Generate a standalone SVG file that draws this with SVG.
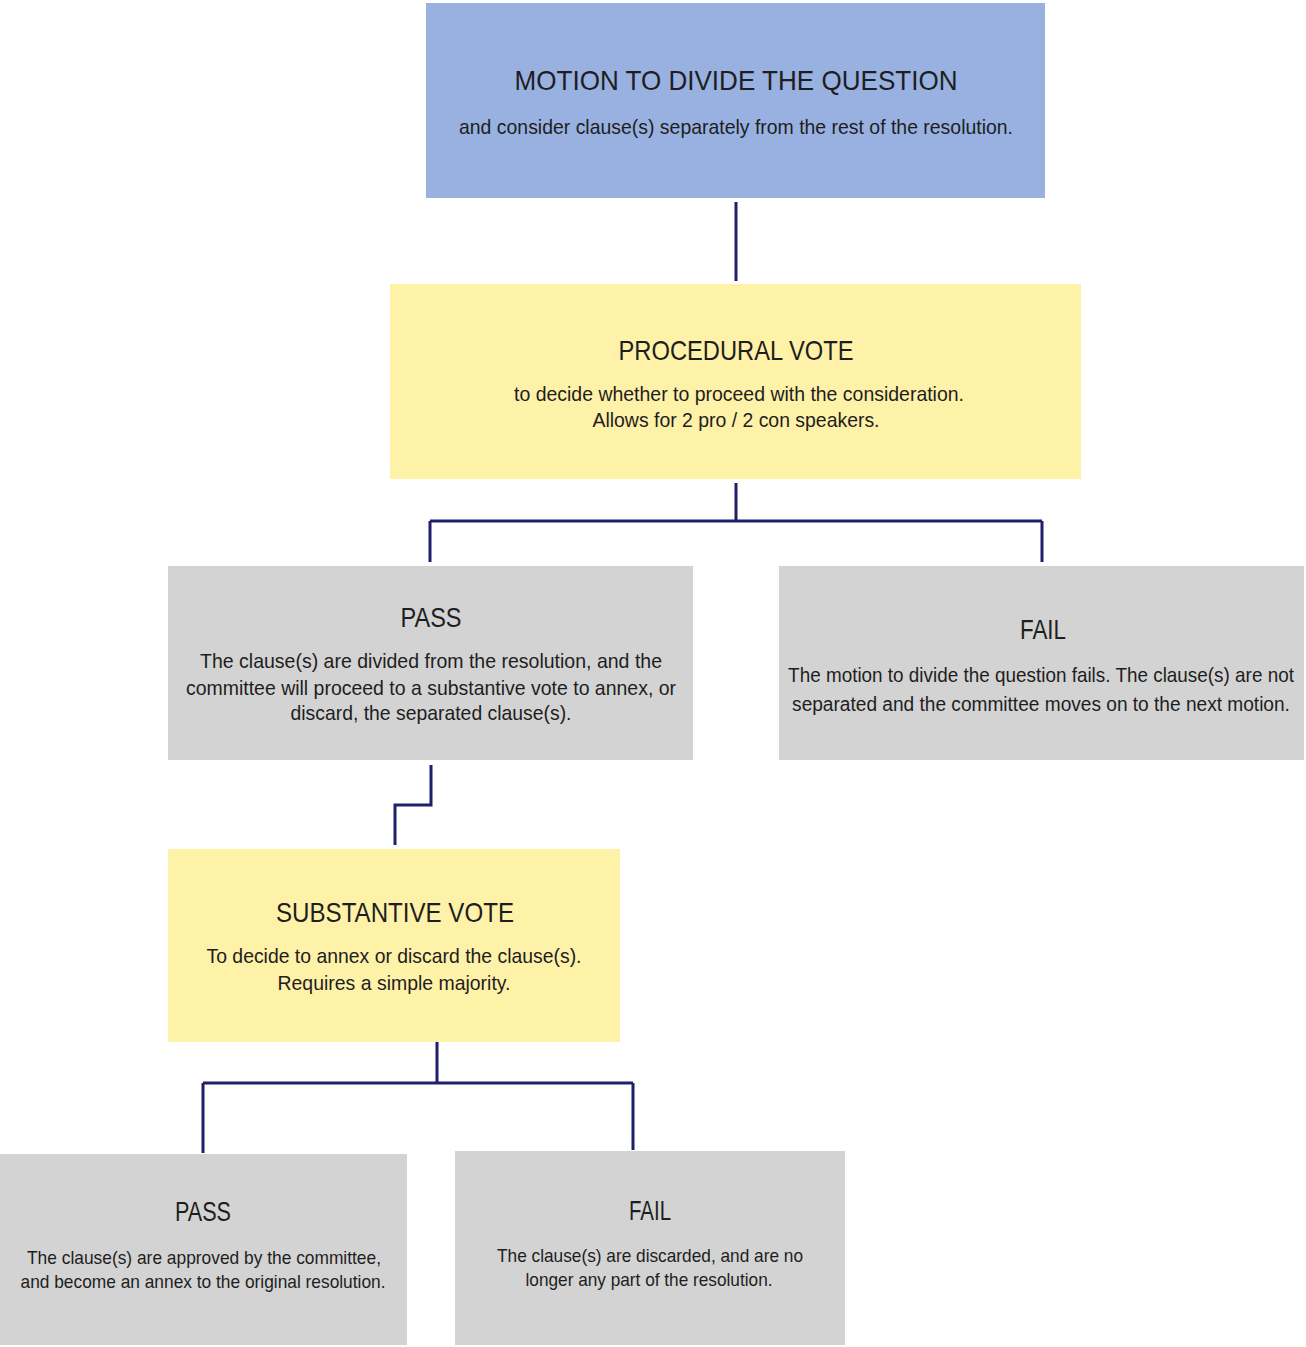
<svg xmlns="http://www.w3.org/2000/svg" width="1306" height="1347" viewBox="0 0 1306 1347">
<style>
.blue{fill:#98b1e1}
.yellow{fill:#fef1a8}
.gray{fill:#d3d3d3}
.title{font-family:"Liberation Sans",Arial,sans-serif;font-size:28px;fill:#1e1e1e;text-anchor:middle}
.body{font-family:"Liberation Sans",Arial,sans-serif;font-size:21px;fill:#1e1e1e;text-anchor:middle}
.small{font-family:"Liberation Sans",Arial,sans-serif;font-size:19px;fill:#1e1e1e;text-anchor:middle}
.conn{fill:none;stroke:#1f1f6b;stroke-width:3}
</style>
<rect width="1306" height="1347" fill="#ffffff"/>
<g id="connectors">
<path class="conn" d="M736 202 V281"/>
<path class="conn" d="M736 483 V521 M430 521 H1042 M430 521 V562 M1042 521 V562"/>
<path class="conn" d="M431 765 V805 H395 V845"/>
<path class="conn" d="M437 1037 V1083 M203 1083 H633 M203 1083 V1153 M633 1083 V1150"/>
</g>
<g id="motion">
<rect class="blue" x="426" y="3" width="619" height="195"/>
<text class="title" x="736" y="90" textLength="443" lengthAdjust="spacingAndGlyphs">MOTION TO DIVIDE THE QUESTION</text>
<text class="body" x="736" y="134" textLength="554" lengthAdjust="spacingAndGlyphs">and consider clause(s) separately from the rest of the resolution.</text>
</g>
<g id="procedural">
<rect class="yellow" x="390" y="284" width="691" height="195"/>
<text class="title" x="736" y="360" textLength="235" lengthAdjust="spacingAndGlyphs">PROCEDURAL VOTE</text>
<text class="body" x="739" y="401" textLength="450" lengthAdjust="spacingAndGlyphs">to decide whether to proceed with the consideration.</text>
<text class="body" x="736" y="427" textLength="287" lengthAdjust="spacingAndGlyphs">Allows for 2 pro / 2 con speakers.</text>
</g>
<g id="pass1">
<rect class="gray" x="168" y="566" width="525" height="194"/>
<text class="title" x="431" y="627" textLength="61" lengthAdjust="spacingAndGlyphs">PASS</text>
<text class="body" x="431" y="668" textLength="462" lengthAdjust="spacingAndGlyphs">The clause(s) are divided from the resolution, and the</text>
<text class="body" x="431" y="695" textLength="490" lengthAdjust="spacingAndGlyphs">committee will proceed to a substantive vote to annex, or</text>
<text class="body" x="431" y="720" textLength="281" lengthAdjust="spacingAndGlyphs">discard, the separated clause(s).</text>
</g>
<g id="fail1">
<rect class="gray" x="779" y="566" width="525" height="194"/>
<text class="title" x="1043" y="639" textLength="46" lengthAdjust="spacingAndGlyphs">FAIL</text>
<text class="body" transform="translate(1041 682) scale(0.9 1)">The motion to divide the question fails. The clause(s) are not</text>
<text class="body" transform="translate(1041 711) scale(0.91 1)">separated and the committee moves on to the next motion.</text>
</g>
<g id="substantive">
<rect class="yellow" x="168" y="849" width="452" height="193"/>
<text class="title" x="395" y="922" textLength="238" lengthAdjust="spacingAndGlyphs">SUBSTANTIVE VOTE</text>
<text class="body" x="394" y="963" textLength="375" lengthAdjust="spacingAndGlyphs">To decide to annex or discard the clause(s).</text>
<text class="body" x="394" y="990" textLength="233" lengthAdjust="spacingAndGlyphs">Requires a simple majority.</text>
</g>
<g id="pass2">
<rect class="gray" x="0" y="1154" width="407" height="191"/>
<text class="title" x="203" y="1221" textLength="56" lengthAdjust="spacingAndGlyphs">PASS</text>
<text class="small" x="204" y="1264" textLength="354" lengthAdjust="spacingAndGlyphs">The clause(s) are approved by the committee,</text>
<text class="small" x="203" y="1288" textLength="365" lengthAdjust="spacingAndGlyphs">and become an annex to the original resolution.</text>
</g>
<g id="fail2">
<rect class="gray" x="455" y="1151" width="390" height="194"/>
<text class="title" x="650" y="1220" textLength="42" lengthAdjust="spacingAndGlyphs">FAIL</text>
<text class="small" x="650" y="1262" textLength="306" lengthAdjust="spacingAndGlyphs">The clause(s) are discarded, and are no</text>
<text class="small" x="649" y="1286" textLength="247" lengthAdjust="spacingAndGlyphs">longer any part of the resolution.</text>
</g>
</svg>
